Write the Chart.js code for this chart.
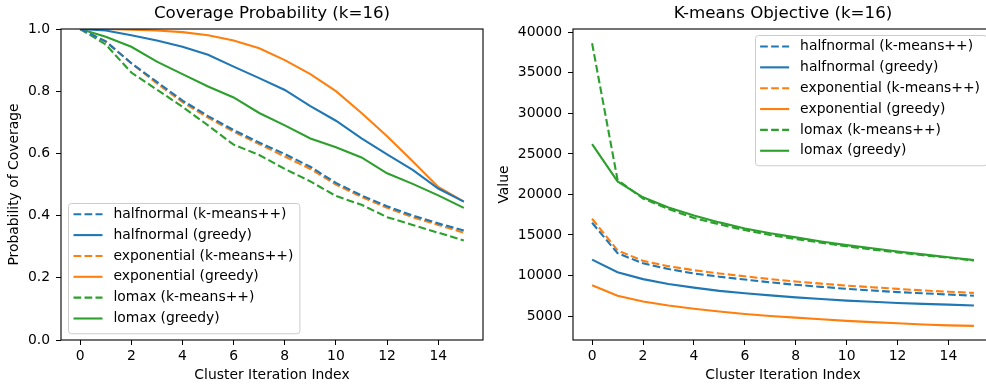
<!DOCTYPE html>
<html>
<head>
<meta charset="utf-8">
<script src="https://cdn.jsdelivr.net/npm/chart.js@4.4.1/dist/chart.umd.min.js"></script>
<style>
  html, body { margin: 0; padding: 0; background: #fff; overflow: hidden; width: 986px; height: 386px; }
  canvas { position: absolute; top: 0; }
  #coverage { left: 0; }
  #objective { left: 493px; }
</style>
</head>
<body>
<canvas id="coverage" width="493" height="386"></canvas>
<canvas id="objective" width="510" height="386"></canvas>
<script>
// x positions and tick labels
const iterations = [0, 1, 2, 3, 4, 5, 6, 7, 8, 9, 10, 11, 12, 13, 14, 15];
const xTicks = [0, 2, 4, 6, 8, 10, 12, 14];
const coverageTicks = [0, 0.2, 0.4, 0.6, 0.8, 1.0];
const objectiveTicks = [5000, 10000, 15000, 20000, 25000, 30000, 35000, 40000];

// coverage probability per iteration
const covHalfnormalKpp = [1.0, 0.96, 0.89, 0.83, 0.77, 0.72, 0.675, 0.635, 0.598, 0.557, 0.505, 0.465, 0.43, 0.40, 0.375, 0.352];
const covHalfnormalGreedy = [1.0, 0.995, 0.98, 0.963, 0.943, 0.917, 0.879, 0.842, 0.804, 0.752, 0.705, 0.648, 0.597, 0.547, 0.487, 0.445];
const covExponentialKpp = [1.0, 0.96, 0.89, 0.825, 0.765, 0.715, 0.67, 0.63, 0.59, 0.55, 0.50, 0.46, 0.425, 0.395, 0.37, 0.345];
const covExponentialGreedy = [1.0, 1.0, 0.998, 0.995, 0.99, 0.98, 0.963, 0.938, 0.90, 0.855, 0.80, 0.73, 0.655, 0.575, 0.492, 0.445];
const covLomaxKpp = [1.0, 0.95, 0.86, 0.805, 0.75, 0.69, 0.628, 0.595, 0.55, 0.51, 0.463, 0.435, 0.395, 0.37, 0.345, 0.32];
const covLomaxGreedy = [1.0, 0.975, 0.943, 0.895, 0.855, 0.815, 0.78, 0.73, 0.69, 0.648, 0.62, 0.587, 0.536, 0.502, 0.465, 0.425];

// k-means objective per iteration
const objHalfnormalKpp = [16500, 12750, 11500, 10800, 10250, 9850, 9500, 9150, 8850, 8600, 8350, 8150, 7950, 7800, 7650, 7500];
const objHalfnormalGreedy = [11950, 10400, 9550, 8950, 8500, 8100, 7800, 7550, 7300, 7100, 6900, 6750, 6600, 6500, 6400, 6300];
const objExponentialKpp = [17000, 13100, 11800, 11150, 10650, 10250, 9900, 9550, 9250, 9000, 8750, 8550, 8350, 8150, 8000, 7850];
const objExponentialGreedy = [8800, 7500, 6800, 6300, 5900, 5550, 5250, 5000, 4800, 4600, 4400, 4250, 4100, 3950, 3850, 3780];
const objLomaxKpp = [38650, 21800, 19500, 18200, 17100, 16300, 15600, 15000, 14500, 14050, 13600, 13200, 12850, 12500, 12200, 11850];
const objLomaxGreedy = [26200, 21600, 19650, 18400, 17400, 16550, 15800, 15200, 14700, 14200, 13750, 13350, 12950, 12600, 12250, 11900];

const BLUE = '#1f77b4', ORANGE = '#ff7f0e', GREEN = '#2ca02c';
const DASH = [7.7, 3.3];
const FONT = 'DejaVu Sans';

Chart.defaults.font.family = FONT;
Chart.defaults.font.size = 13.9;
Chart.defaults.color = '#000';

function series(label, values, color, dashed) {
  return {
    label,
    data: iterations.map((x, i) => ({ x, y: values[i] })),
    borderColor: color,
    backgroundColor: color,
    borderWidth: 2.1,
    borderDash: dashed ? DASH : [],
    pointRadius: 0,
    tension: 0,
    fill: false
  };
}

// black box around the plot area
const frame = {
  id: 'frame',
  afterDatasetsDraw(chart) {
    const { ctx, chartArea: a } = chart;
    ctx.save();
    ctx.strokeStyle = '#000';
    ctx.lineWidth = 1.1;
    ctx.strokeRect(a.left, a.top, a.right - a.left, a.bottom - a.top);
    ctx.restore();
  }
};

// matplotlib-like legend drawn inside the axes
const boxLegend = {
  id: 'boxLegend',
  afterDraw(chart, args, opts) {
    const { ctx, chartArea: a } = chart;
    const rowH = 20.85;
    const items = chart.data.datasets;
    ctx.save();
    ctx.font = '13.9px "' + FONT + '"';
    const textW = Math.max(...items.map(d => ctx.measureText(d.label).width));
    const w = 45.5 + textW + 6;
    const h = 11.5 + rowH * (items.length - 1) + 14.5;
    let x0, y0;
    if (opts.corner === 'upper right') {
      x0 = a.right - 7 - w;
      y0 = a.top + 6;
    } else {
      x0 = a.left + 7;
      y0 = a.bottom - 7 - h;
    }
    ctx.beginPath();
    ctx.roundRect(Math.round(x0) + 0.5, Math.round(y0) + 0.5, w, h, 3);
    ctx.fillStyle = 'rgba(255,255,255,0.8)';
    ctx.fill();
    ctx.strokeStyle = '#cccccc';
    ctx.lineWidth = 1;
    ctx.stroke();
    items.forEach((d, i) => {
      const cy = y0 + 11.5 + i * rowH;
      ctx.beginPath();
      ctx.setLineDash(d.borderDash);
      ctx.strokeStyle = d.borderColor;
      ctx.lineWidth = d.borderWidth;
      ctx.moveTo(x0 + 5.5, cy);
      ctx.lineTo(x0 + 34.5, cy);
      ctx.stroke();
      ctx.setLineDash([]);
      ctx.fillStyle = '#000';
      ctx.textBaseline = 'middle';
      ctx.textAlign = 'left';
      ctx.fillText(d.label, x0 + 45.5, cy);
    });
    ctx.restore();
  }
};

function fixedTicks(values) {
  return scale => { scale.ticks = values.map(v => ({ value: v })); };
}

function makeChart(id, o) {
  return new Chart(document.getElementById(id), {
    type: 'line',
    data: { datasets: o.datasets },
    options: {
      responsive: false,
      animation: false,
      layout: { padding: { left: 0, right: 10, top: 0, bottom: 0 } },
      plugins: {
        legend: { display: false },
        tooltip: { enabled: false },
        title: {
          display: true,
          text: o.title,
          fullSize: false,
          font: { size: 16.67, weight: 'normal' },
          padding: { top: 4, bottom: 5 }
        },
        boxLegend: { corner: o.legendCorner }
      },
      scales: {
        x: {
          type: 'linear',
          min: -0.75,
          max: 15.75,
          afterBuildTicks: fixedTicks(xTicks),
          afterFit: s => { s.height = 46; },
          grid: { drawOnChartArea: false, drawTicks: true, tickLength: 5, color: '#000' },
          border: { display: false },
          ticks: { padding: 3, maxRotation: 0, callback: v => String(v) },
          title: { display: true, text: 'Cluster Iteration Index', padding: { top: 0, bottom: 2.5 } }
        },
        y: {
          type: 'linear',
          min: o.yMin,
          max: o.yMax,
          afterBuildTicks: fixedTicks(o.yTicks),
          afterFit: s => { s.width = o.yWidth; },
          grid: { drawOnChartArea: false, drawTicks: true, tickLength: 5, color: '#000' },
          border: { display: false },
          ticks: { padding: 6, callback: o.yFormat },
          title: { display: true, text: o.yTitle, padding: { top: o.yTitlePad, bottom: 0 } }
        }
      }
    },
    plugins: [frame, boxLegend]
  });
}

makeChart('coverage', {
  title: 'Coverage Probability (k=16)',
  yTitle: 'Probability of Coverage',
  yMin: 0, yMax: 1,
  yTicks: coverageTicks,
  yFormat: v => v.toFixed(1),
  yWidth: 61,
  yTitlePad: 6.5,
  legendCorner: 'lower left',
  datasets: [
    series('halfnormal (k-means++)', covHalfnormalKpp, BLUE, true),
    series('halfnormal (greedy)', covHalfnormalGreedy, BLUE, false),
    series('exponential (k-means++)', covExponentialKpp, ORANGE, true),
    series('exponential (greedy)', covExponentialGreedy, ORANGE, false),
    series('lomax (k-means++)', covLomaxKpp, GREEN, true),
    series('lomax (greedy)', covLomaxGreedy, GREEN, false)
  ]
});

makeChart('objective', {
  title: 'K-means Objective (k=16)',
  yTitle: 'Value',
  yMin: 2040, yMax: 40410,
  yTicks: objectiveTicks,
  yFormat: v => String(v),
  yWidth: 80,
  yTitlePad: 3.5,
  legendCorner: 'upper right',
  datasets: [
    series('halfnormal (k-means++)', objHalfnormalKpp, BLUE, true),
    series('halfnormal (greedy)', objHalfnormalGreedy, BLUE, false),
    series('exponential (k-means++)', objExponentialKpp, ORANGE, true),
    series('exponential (greedy)', objExponentialGreedy, ORANGE, false),
    series('lomax (k-means++)', objLomaxKpp, GREEN, true),
    series('lomax (greedy)', objLomaxGreedy, GREEN, false)
  ]
});
</script>
</body>
</html>
